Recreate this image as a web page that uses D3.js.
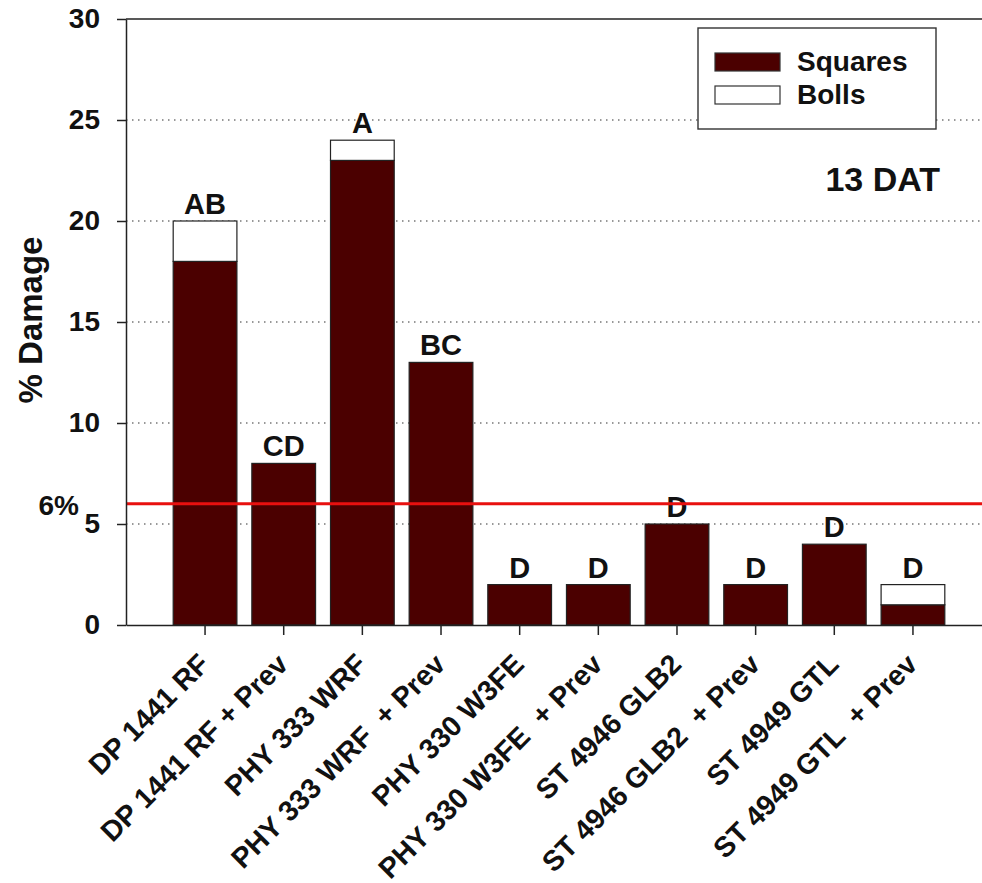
<!DOCTYPE html>
<html>
<head>
<meta charset="utf-8">
<script src="https://cdn.jsdelivr.net/npm/d3@7"></script>
<style>
  body { margin: 0; background: #fff; }
  svg { display: block; font-family: "Liberation Sans", Arial, sans-serif; font-weight: bold; }
</style>
</head>
<body>
<div id="chart"></div>
<script>
// data
const treatments = ["DP 1441 RF", "DP 1441 RF + Prev", "PHY 333 WRF", "PHY 333 WRF  + Prev",
  "PHY 330 W3FE", "PHY 330 W3FE  + Prev", "ST 4946 GLB2", "ST 4946 GLB2  + Prev",
  "ST 4949 GTL", "ST 4949 GTL  + Prev"]
const squares = [18, 8, 23, 13, 2, 2, 5, 2, 4, 1]
const bolls = [2, 0, 1, 0, 0, 0, 0, 0, 0, 1]
const letters = ["AB", "CD", "A", "BC", "D", "D", "D", "D", "D", "D"]
const yTicks = [0, 5, 10, 15, 20, 25, 30]
const gridValues = [5, 10, 15, 20, 25]
const threshold = 6
const seriesNames = ["Squares", "Bolls"]

const width = 982, height = 883
const margin = { top: 19, left: 126 }
const plotBottom = 625
const plotRight = 992

const rows = treatments.map((t, i) => ({ name: t, Squares: squares[i], Bolls: bolls[i], letter: letters[i] }))

const svg = d3.select("#chart").append("svg")
  .attr("width", width)
  .attr("height", height)

svg.append("rect").attr("width", width).attr("height", height).attr("fill", "#fff")

const x = d3.scaleBand()
  .domain(treatments)
  .range([margin.left, plotRight])
  .paddingInner(0.19)
  .paddingOuter(0.6)

const y = d3.scaleLinear()
  .domain([0, 30])
  .range([plotBottom, margin.top])

const colors = { Squares: "#4b0000", Bolls: "#ffffff" }

// dotted grid
svg.append("g")
  .selectAll("line")
  .data(gridValues)
  .join("line")
  .attr("x1", margin.left)
  .attr("x2", width)
  .attr("y1", d => y(d))
  .attr("y2", d => y(d))
  .attr("stroke", "#777")
  .attr("stroke-width", 1.3)
  .attr("stroke-dasharray", "1.5,4.5")

// stacked bars
const stacked = d3.stack().keys(seriesNames)(rows)
svg.append("g")
  .selectAll("g")
  .data(stacked)
  .join("g")
  .attr("fill", d => colors[d.key])
  .selectAll("rect")
  .data(d => d.filter(s => s[1] - s[0] > 0))
  .join("rect")
  .attr("x", d => x(d.data.name))
  .attr("y", d => y(d[1]))
  .attr("width", x.bandwidth())
  .attr("height", d => y(d[0]) - y(d[1]))
  .attr("stroke", "#222")
  .attr("stroke-width", 1.2)

// significance letters
svg.append("g")
  .selectAll("text")
  .data(rows)
  .join("text")
  .attr("x", d => x(d.name) + x.bandwidth() / 2)
  .attr("y", d => y(d.Squares + d.Bolls) - 7)
  .attr("text-anchor", "middle")
  .attr("font-size", 29)
  .attr("fill", "#111")
  .text(d => d.letter)

// threshold line
svg.append("line")
  .attr("x1", margin.left)
  .attr("x2", width)
  .attr("y1", y(threshold))
  .attr("y2", y(threshold))
  .attr("stroke", "#e8100f")
  .attr("stroke-width", 3)

svg.append("text")
  .attr("x", 79)
  .attr("y", 515)
  .attr("text-anchor", "end")
  .attr("font-size", 28)
  .attr("fill", "#111")
  .text(threshold + "%")

// axes
const yAxis = d3.axisLeft(y).tickValues(yTicks).tickSize(9).tickSizeOuter(0).tickPadding(17)
const yG = svg.append("g")
  .attr("transform", `translate(${margin.left},0)`)
  .call(yAxis)
yG.select(".domain").attr("stroke", "#222").attr("stroke-width", 1.5)
yG.selectAll(".tick line").attr("stroke", "#222").attr("stroke-width", 1.5)
yG.selectAll(".tick text")
  .attr("font-size", 28)
  .attr("font-family", "Liberation Sans, Arial, sans-serif")
  .attr("font-weight", "bold")
  .attr("fill", "#111")

const xAxis = d3.axisBottom(x).tickSize(10).tickSizeOuter(0).tickFormat("")
const xG = svg.append("g")
  .attr("transform", `translate(0,${y(0)})`)
  .call(xAxis)
xG.select(".domain").attr("stroke", "#222").attr("stroke-width", 1.5)
xG.selectAll(".tick line").attr("stroke", "#222").attr("stroke-width", 1.5)

// top frame line
svg.append("line")
  .attr("x1", margin.left)
  .attr("x2", width)
  .attr("y1", y(30))
  .attr("y2", y(30))
  .attr("stroke", "#222")
  .attr("stroke-width", 1.5)

// rotated category labels
svg.append("g")
  .selectAll("text")
  .data(treatments)
  .join("text")
  .attr("transform", d => `translate(${x(d) + x.bandwidth() / 2 + 6},${y(0) + 41}) rotate(-45)`)
  .attr("text-anchor", "end")
  .attr("font-size", 28.5)
  .attr("fill", "#111")
  .style("white-space", "pre")
  .text(d => d)

// y axis title
svg.append("text")
  .attr("transform", "translate(42,320) rotate(-90)")
  .attr("text-anchor", "middle")
  .attr("font-size", 33)
  .attr("fill", "#111")
  .text("% Damage")

// legend
const legend = svg.append("g").attr("transform", "translate(698,28)")
legend.append("rect")
  .attr("width", 238)
  .attr("height", 101)
  .attr("fill", "#fff")
  .attr("stroke", "#333")
  .attr("stroke-width", 1.4)
legend.selectAll("rect.sw")
  .data(seriesNames)
  .join("rect")
  .attr("class", "sw")
  .attr("x", 17)
  .attr("y", (d, i) => 25 + i * 33)
  .attr("width", 65)
  .attr("height", 18)
  .attr("fill", d => colors[d])
  .attr("stroke", "#333")
  .attr("stroke-width", 1.2)
legend.selectAll("text")
  .data(seriesNames)
  .join("text")
  .attr("x", 99)
  .attr("y", (d, i) => 43 + i * 33)
  .attr("font-size", 28)
  .attr("fill", "#111")
  .text(d => d)

svg.append("text")
  .attr("x", 940)
  .attr("y", 191)
  .attr("text-anchor", "end")
  .attr("font-size", 34)
  .attr("fill", "#111")
  .text("13 DAT")
</script>
</body>
</html>
